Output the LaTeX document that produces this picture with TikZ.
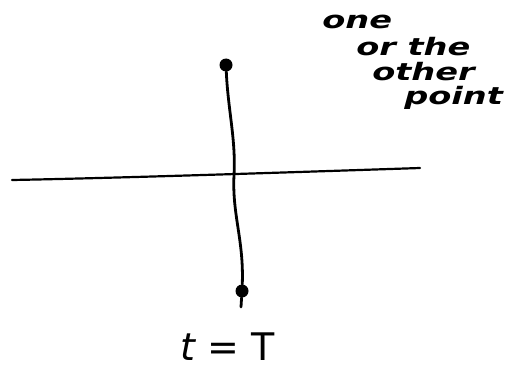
\documentclass[tikz,border=0pt]{standalone}
\usepackage{fontspec}
\setmainfont{DejaVu Sans}
\begin{document}
\begin{tikzpicture}[x=1pt,y=-1pt,
  ink/.style={line width=2.8pt,line cap=round,line join=round,black},
  dotmark/.style={circle,fill=black,inner sep=0pt,minimum size=13pt},
  hand/.style={font=\fontsize{24}{24}\selectfont\bfseries\itshape,inner sep=0pt,anchor=west,xscale=1.4}]
\useasboundingbox (0,0) rectangle (514,369);
% horizontal axis
\coordinate (hl) at (12,180);
\coordinate (hr) at (420,168);
\draw[ink,line width=2.2pt] (hl) .. controls (120,178) and (300,172) .. (hr);
% points
\node[dotmark] (top) at (226,65) {};
\node[dotmark] (bot) at (242,291) {};
\coordinate (botend) at (241,307);
\draw[ink] (top) .. controls (228,110) and (236,140) .. (234,175)
  .. controls (232,215) and (244,240) .. (bot);
\draw[ink] (bot) -- (botend);
% labels
\node[hand] (l1) at (322,22) {one};
\node[hand] (l2) at (356,47) {or the};
\node[hand] (l3) at (372,72) {other};
\node[hand] (l4) at (404,98) {point};
\node[font=\fontsize{38}{38}\selectfont,inner sep=0pt,anchor=base] (tt) at (228,360) {{\itshape t} = T};
\end{tikzpicture}
\end{document}
